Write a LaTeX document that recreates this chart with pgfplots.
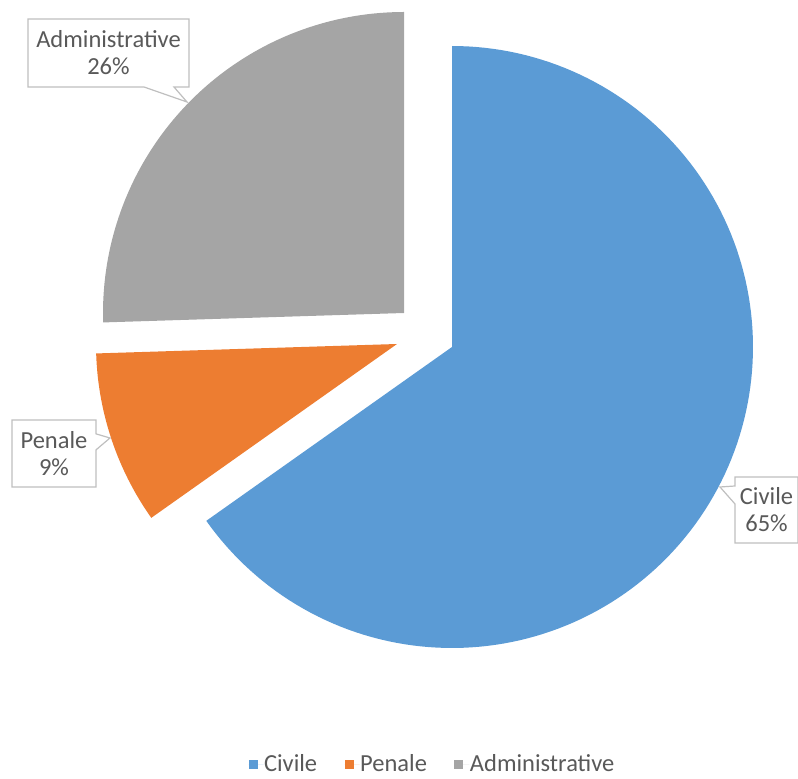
\documentclass[border=0pt]{standalone}
\usepackage{pgfplots}
\pgfplotsset{compat=1.18}
\usepackage{fontspec}
\setmainfont{Carlito}
\usetikzlibrary{shapes.callouts}
\definecolor{civ}{HTML}{5B9BD5}
\definecolor{pen}{HTML}{ED7D31}
\definecolor{adm}{HTML}{A5A5A5}
\definecolor{txt}{HTML}{595959}
\definecolor{bord}{HTML}{BFBFBF}
% shares (percent)
\def\vCiv{65.2}
\def\vPen{9.3}
\def\vAdm{25.5}
\tikzset{callbox/.style={rectangle callout, draw=bord, line width=1.2pt, fill=white,
    text=txt, align=center, font=\fontsize{24.5}{27}\selectfont, inner sep=2pt}}
\begin{document}
\begin{tikzpicture}
\begin{axis}[
  x=1pt, y=1pt, xmin=0, xmax=798, ymin=0, ymax=779,
  enlargelimits=false, hide axis, clip=false, scale only axis,
  legend columns=3,
  legend image code/.code={\fill[#1] (0pt,-4.5pt) rectangle (9pt,4.5pt);\path (0pt,0pt) -- (15pt,0pt);},
  legend style={draw=none, fill=none, at={(0.541,0.019)}, anchor=center,
    font=\fontsize{24.5}{27}\selectfont, text=txt,
    /tikz/every even column/.append style={column sep=27pt},
    nodes={inner sep=0.5pt}},
]
% Civile: apex (452,432)
\addplot[fill=civ, draw=none, domain={90-3.6*\vCiv}:90, samples=150, variable=\t]
  ({452+301*cos(t)}, {432+301*sin(t)}) -- (axis cs:452,432) -- cycle;
\addlegendentry{Civile}
% Penale: apex (397,435)
\addplot[fill=pen, draw=none, domain={90-3.6*(\vCiv+\vPen)}:{90-3.6*\vCiv}, samples=40, variable=\t]
  ({397+301*cos(t)}, {435+301*sin(t)}) -- (axis cs:397,435) -- cycle;
\addlegendentry{Penale}
% Administrative: apex (404,466)
\addplot[fill=adm, draw=none, domain={-270}:{90-3.6*(\vCiv+\vPen)}, samples=100, variable=\t]
  ({404+301*cos(t)}, {466+301*sin(t)}) -- (axis cs:404,466) -- cycle;
\addlegendentry{Administrative}

\node[callbox, minimum width=161pt, minimum height=68pt,
  callout absolute pointer={(axis cs:187,677)}, callout pointer width=30pt]
  at (axis cs:108.5,726) {Administrative\\26\%};
\node[callbox, minimum width=84pt, minimum height=67pt,
  callout absolute pointer={(axis cs:110,341)}, callout pointer width=16pt]
  at (axis cs:54,325.5) {Penale\\9\%};
\node[callbox, minimum width=63pt, minimum height=66pt,
  callout absolute pointer={(axis cs:720,292)}, callout pointer width=18pt]
  at (axis cs:766.5,269) {Civile\\65\%};
\end{axis}
\pgfresetboundingbox
\path (0,0) rectangle (798pt,779pt);
\end{tikzpicture}
\end{document}
